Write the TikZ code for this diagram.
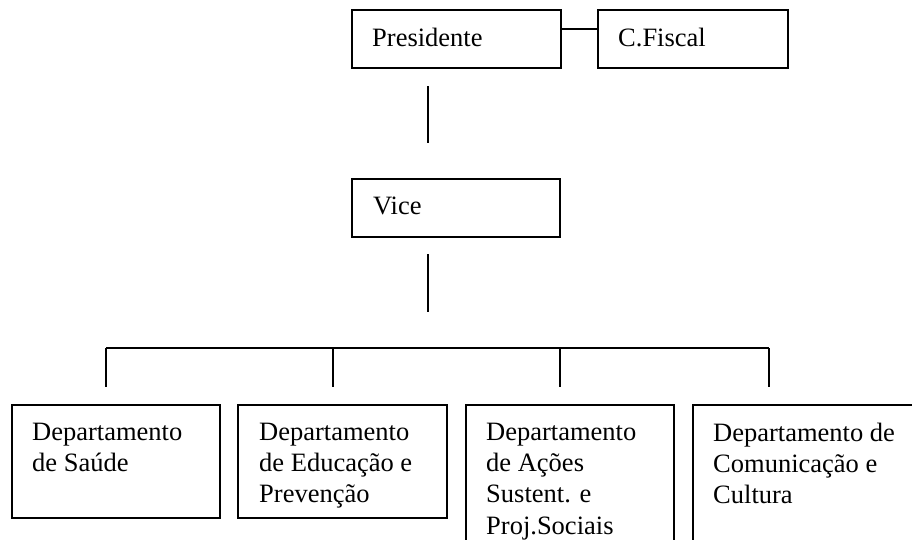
\documentclass[tikz,border=0pt]{standalone}
\usepackage{fontspec}
\setmainfont{Liberation Serif}
\begin{document}
\begin{tikzpicture}[x=1pt,y=-1pt,
  box/.style={draw,line width=1.3pt,rectangle,inner sep=0pt,outer sep=0pt},
  lbl/.style={anchor=north west,inner sep=0pt,align=left,font=\fontsize{26.5}{31.2}\selectfont},
  conn/.style={line width=1.3pt}]
\useasboundingbox (0,0) rectangle (912,539);
\clip (0,0) rectangle (912,539);
% boxes
\node[box,minimum width=209pt,minimum height=58pt] (pres) at (456.5,39) {};
\node[box,minimum width=190pt,minimum height=58pt] (fisc) at (693,39) {};
\node[box,minimum width=208pt,minimum height=58pt] (vice) at (456,208) {};
\node[box,minimum width=208pt,minimum height=113pt] (d1) at (116,461.5) {};
\node[box,minimum width=209pt,minimum height=113pt] (d2) at (342.5,461.5) {};
\node[box,minimum width=208pt,minimum height=160pt] (d3) at (570,485) {};
\node[box,minimum width=240pt,minimum height=160pt] (d4) at (813,485) {};
% labels
\node[lbl] (tpres) at (372,28) {Presidente};
\node[lbl] (tfisc) at (618,28) {C.Fiscal};
\node[lbl] (tvice) at (373,197) {Vice};
\node[lbl] (t1) at (32,423) {Departamento\\de Saúde};
\node[lbl] (t2) at (259,423) {Departamento\\de Educação e\\Prevenção};
\node[lbl] (t3) at (486,423) {Departamento\\de Ações\\Sustent. e\\Proj.Sociais};
\node[lbl] (t4) at (713,423) {Departamento de\\Comunicação e\\Cultura};
% connector coordinates
\coordinate (pa) at (428,86);
\coordinate (pb) at (428,143);
\coordinate (va) at (428,254);
\coordinate (vb) at (428,312);
\coordinate (k1) at (106,348);
\coordinate (k2) at (333,348);
\coordinate (k3) at (560,348);
\coordinate (k4) at (769,348);
\coordinate (e1) at (106,387);
\coordinate (e2) at (333,387);
\coordinate (e3) at (560,387);
\coordinate (e4) at (769,387);
% connectors
\draw[conn] ([yshift=10pt]pres.east) -- ([yshift=10pt]fisc.west);
\draw[conn] (pa) -- (pb);
\draw[conn] (va) -- (vb);
\draw[conn] (k1) -- (k4);
\draw[conn] (k1) -- (e1);
\draw[conn] (k2) -- (e2);
\draw[conn] (k3) -- (e3);
\draw[conn] (k4) -- (e4);
\end{tikzpicture}
\end{document}
